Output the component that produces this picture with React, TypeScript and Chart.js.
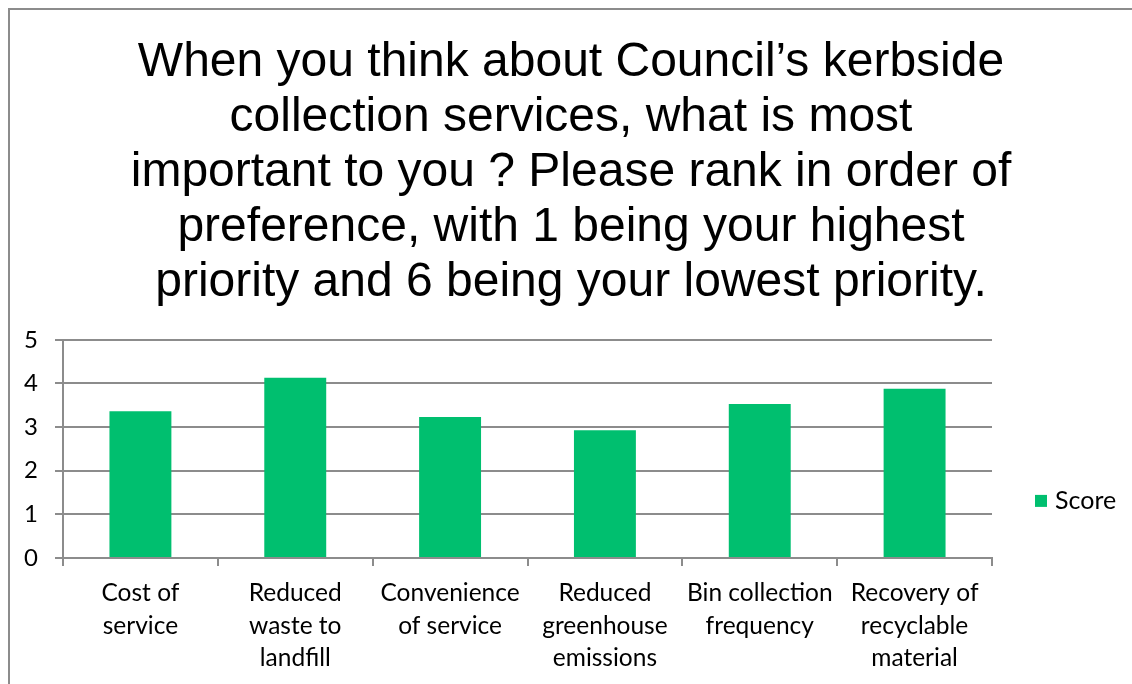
import React, { useEffect, useRef } from 'react';
import { Chart, registerables } from 'chart.js';

Chart.register(...registerables);

const titleLines = [
  'When you think about Council’s kerbside',
  'collection services, what is most',
  'important to you ? Please rank in order of',
  'preference, with 1 being your highest',
  'priority and 6 being your lowest priority.',
];

const categories = [
  ['Cost of', 'service'],
  ['Reduced', 'waste to', 'landfill'],
  ['Convenience', 'of service'],
  ['Reduced', 'greenhouse', 'emissions'],
  ['Bin collection', 'frequency'],
  ['Recovery of', 'recyclable', 'material'],
];

const scores = [3.36, 4.13, 3.23, 2.93, 3.53, 3.88];
const yMin = 0;
const yMax = 5;
const yStep = 1;
const seriesName = 'Score';

const barColor = '#00BF6F';
const gridColor = '#8c8c8c';
const labelFont = "Lato, 'Noto Sans', sans-serif";

const sideLegend = {
  id: 'sideLegend',
  afterDraw(chart: any) {
    const { ctx, chartArea } = chart;
    const x = chartArea.right + 43;
    const y = (chartArea.top + chart.scales.x.bottom) / 2 - 11;
    ctx.save();
    ctx.fillStyle = barColor;
    ctx.fillRect(x, y - 6, 12, 12);
    ctx.fillStyle = '#000';
    ctx.font = `25px ${labelFont}`;
    ctx.textBaseline = 'middle';
    ctx.textAlign = 'left';
    ctx.fillText(seriesName, x + 20, y);
    ctx.restore();
  },
};

export default function App() {
  const ref = useRef<HTMLCanvasElement | null>(null);

  useEffect(() => {
    if (!ref.current) return;
    const chart = new Chart(ref.current, {
      type: 'bar',
      data: {
        labels: categories,
        datasets: [
          {
            label: seriesName,
            data: scores,
            backgroundColor: barColor,
            borderWidth: 0,
            barPercentage: 0.4,
            categoryPercentage: 1,
          },
        ],
      },
      options: {
        animation: false,
        responsive: false,
        maintainAspectRatio: false,
        layout: { padding: 0 },
        plugins: {
          legend: { display: false },
          tooltip: { enabled: false },
          title: {
            display: true,
            text: titleLines,
            color: '#000',
            font: { family: "'Liberation Sans', Arial, sans-serif", size: 48, weight: 'normal', lineHeight: 1.145 },
            padding: { top: 25, bottom: 30 },
          },
        },
        scales: {
          x: {
            afterFit(scale: any) {
              scale.height = 126;
            },
            grid: {
              display: true,
              drawOnChartArea: false,
              drawTicks: true,
              tickLength: 8,
              color: gridColor,
              lineWidth: 2,
              offset: true,
            },
            border: { display: true, color: gridColor, width: 2 },
            ticks: {
              color: '#000',
              padding: 11,
              maxRotation: 0,
              autoSkip: false,
              font: { family: labelFont, size: 24.5, lineHeight: 1.33 },
            },
          },
          y: {
            min: yMin,
            max: yMax,
            afterFit(scale: any) {
              scale.width = 53;
            },
            grid: {
              color: gridColor,
              lineWidth: 2,
              tickLength: 8,
            },
            border: { display: true, color: gridColor, width: 2 },
            ticks: {
              stepSize: yStep,
              color: '#000',
              padding: 17,
              font: { family: labelFont, size: 24 },
            },
          },
          legendSpace: {
            type: 'linear',
            position: 'right',
            display: true,
            afterFit(scale: any) {
              scale.width = 140;
            },
            grid: { display: false, drawTicks: false },
            border: { display: false },
            ticks: { display: false },
          },
        },
      },
      plugins: [sideLegend],
    });
    return () => chart.destroy();
  }, []);

  return (
    <div
      style={{
        position: 'fixed',
        left: 8,
        top: 8,
        width: 1124,
        height: 676,
        boxSizing: 'border-box',
        borderTop: '2px solid #8c8c8c',
        borderLeft: '2px solid #8c8c8c',
        background: '#fff',
        overflow: 'hidden',
      }}
    >
      <canvas ref={ref} width={1122} height={674} style={{ display: 'block' }} />
    </div>
  );
}
